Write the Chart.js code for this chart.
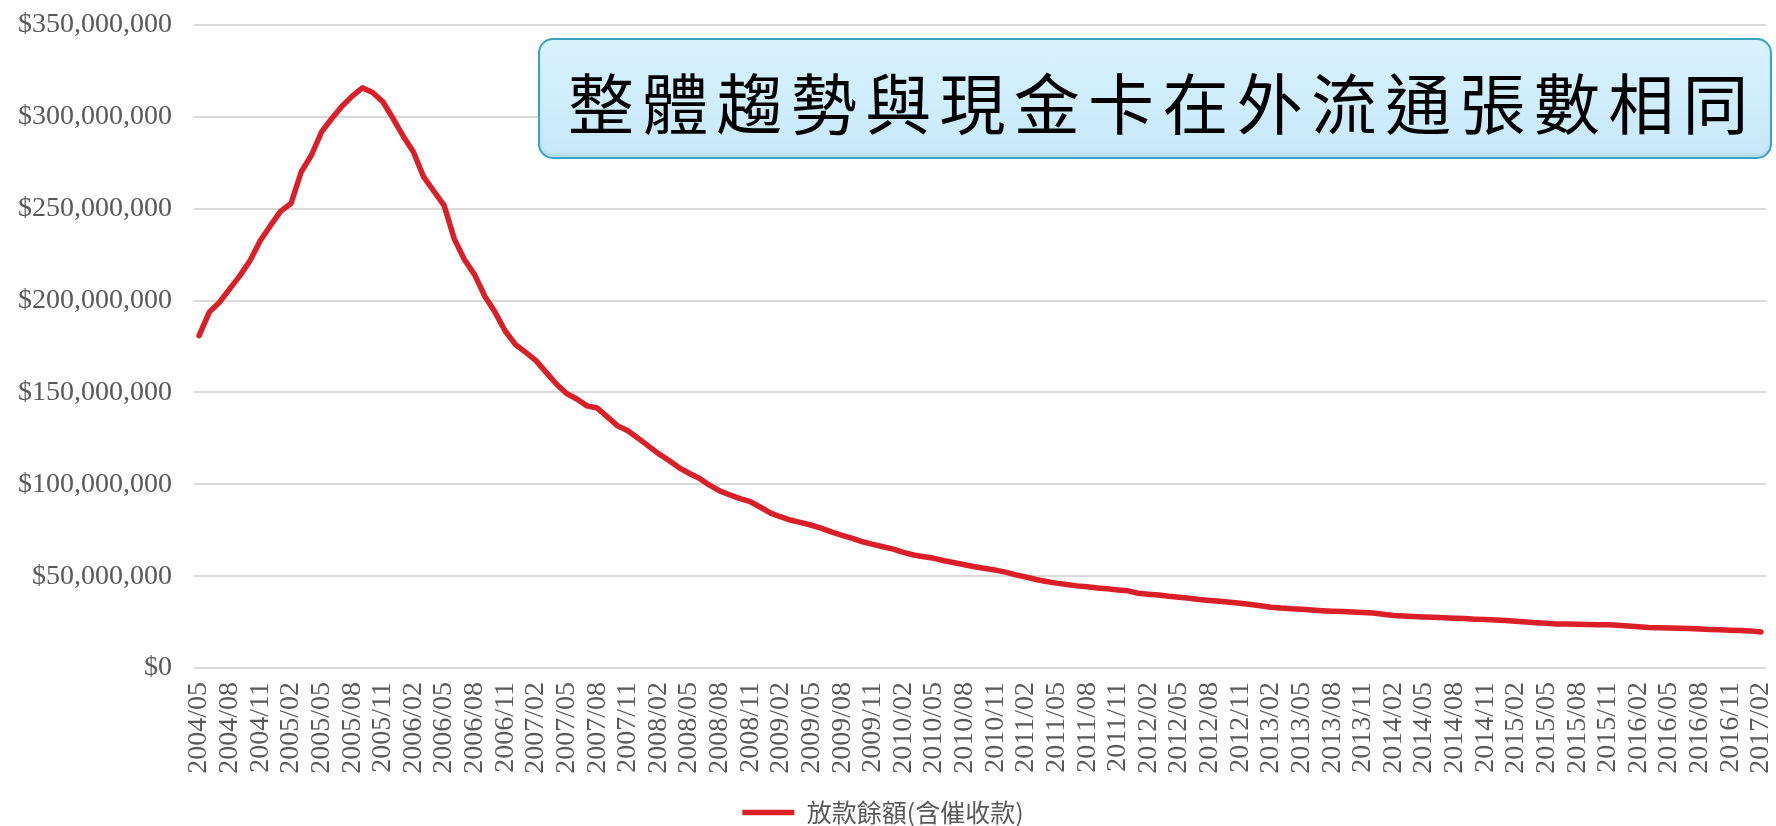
<!DOCTYPE html>
<html>
<head>
<meta charset="utf-8">
<script src="https://cdn.jsdelivr.net/npm/chart.js@4.4.1/dist/chart.umd.min.js"></script>
<style>
  html, body { margin: 0; padding: 0; background: #ffffff; }
  #wrap { position: relative; width: 1776px; height: 826px; overflow: hidden; }
  #c { position: absolute; left: 0; top: 0; }
  #titleBox {
    position: absolute; left: 538px; top: 38px; width: 1230px; height: 117px;
    border: 2px solid #38a2c3; border-radius: 15px;
    background: linear-gradient(#d8f2fd, #c7e8f9);
    box-shadow: inset 0 -3px 3px rgba(40,120,160,0.12);
  }
  #titleText {
    position: absolute; left: 28px; top: 20px; white-space: nowrap;
    font-family: "Noto Sans CJK TC", "Noto Sans CJK SC", sans-serif;
    font-size: 66px; line-height: 80px; letter-spacing: 8.3px; color: #000000;
  }
</style>
</head>
<body>
<div id="wrap">
  <canvas id="c" width="1776" height="826"></canvas>
  <div id="titleBox"><div id="titleText">整體趨勢與現金卡在外流通張數相同</div></div>
</div>
<script>
const categories = [
  "2004/05","2004/06","2004/07","2004/08","2004/09","2004/10","2004/11","2004/12",
  "2005/01","2005/02","2005/03","2005/04","2005/05","2005/06","2005/07","2005/08","2005/09","2005/10","2005/11","2005/12",
  "2006/01","2006/02","2006/03","2006/04","2006/05","2006/06","2006/07","2006/08","2006/09","2006/10","2006/11","2006/12",
  "2007/01","2007/02","2007/03","2007/04","2007/05","2007/06","2007/07","2007/08","2007/09","2007/10","2007/11","2007/12",
  "2008/01","2008/02","2008/03","2008/04","2008/05","2008/06","2008/07","2008/08","2008/09","2008/10","2008/11","2008/12",
  "2009/01","2009/02","2009/03","2009/04","2009/05","2009/06","2009/07","2009/08","2009/09","2009/10","2009/11","2009/12",
  "2010/01","2010/02","2010/03","2010/04","2010/05","2010/06","2010/07","2010/08","2010/09","2010/10","2010/11","2010/12",
  "2011/01","2011/02","2011/03","2011/04","2011/05","2011/06","2011/07","2011/08","2011/09","2011/10","2011/11","2011/12",
  "2012/01","2012/02","2012/03","2012/04","2012/05","2012/06","2012/07","2012/08","2012/09","2012/10","2012/11","2012/12",
  "2013/01","2013/02","2013/03","2013/04","2013/05","2013/06","2013/07","2013/08","2013/09","2013/10","2013/11","2013/12",
  "2014/01","2014/02","2014/03","2014/04","2014/05","2014/06","2014/07","2014/08","2014/09","2014/10","2014/11","2014/12",
  "2015/01","2015/02","2015/03","2015/04","2015/05","2015/06","2015/07","2015/08","2015/09","2015/10","2015/11","2015/12",
  "2016/01","2016/02","2016/03","2016/04","2016/05","2016/06","2016/07","2016/08","2016/09","2016/10","2016/11","2016/12",
  "2017/01","2017/02"
];

const seriesName = "放款餘額(含催收款)";

const loanBalance = [
  180900000,193700000,199100000,206400000,213600000,221800000,232700000,240900000,
  248700000,252800000,270000000,279100000,291800000,299100000,305800000,311300000,315800000,313300000,308200000,299100000,
  289500000,280900000,267300000,259500000,251800000,233600000,222200000,214000000,202200000,193600000,183300000,176000000,
  171800000,167300000,160900000,154600000,149400000,146400000,142700000,141500000,136700000,131800000,129100000,125100000,
  120900000,116700000,113100000,109100000,106000000,103300000,99500000,96400000,94200000,92200000,90500000,87500000,
  84300000,82200000,80400000,79100000,77700000,76000000,74000000,72200000,70600000,68700000,67300000,66000000,
  64700000,62900000,61500000,60600000,59700000,58400000,57300000,56200000,55100000,54200000,53300000,52200000,
  50700000,49500000,48200000,47100000,46200000,45500000,44700000,44200000,43600000,43100000,42500000,42000000,
  40700000,40200000,39700000,39000000,38500000,38000000,37300000,36800000,36300000,35800000,35200000,34600000,
  33900000,33100000,32600000,32300000,32000000,31600000,31200000,30900000,30700000,30500000,30200000,29900000,
  29300000,28600000,28300000,28000000,27800000,27600000,27300000,27100000,26900000,26600000,26400000,26100000,
  25800000,25400000,25000000,24600000,24300000,24000000,23900000,23800000,23700000,23600000,23500000,23300000,
  22900000,22500000,22100000,21900000,21800000,21700000,21500000,21200000,21000000,20800000,20600000,20400000,
  20200000,19600000
];

const yTicks = [0, 50000000, 100000000, 150000000, 200000000, 250000000, 300000000, 350000000];
const tickEvery = 3;

const labelColor = "#595959";
const lineColor = "#DA1F28";

new Chart(document.getElementById("c"), {
  type: "line",
  data: {
    labels: categories,
    datasets: [{
      label: seriesName,
      data: loanBalance,
      borderColor: lineColor,
      backgroundColor: lineColor,
      borderWidth: 5.5,
      pointRadius: 0,
      pointHoverRadius: 0,
      tension: 0,
      borderJoinStyle: "round",
      borderCapStyle: "round",
      fill: false
    }]
  },
  options: {
    responsive: false,
    animation: false,
    events: [],
    layout: { padding: { top: 25, right: 10, left: 0, bottom: -9 } },
    plugins: {
      tooltip: { enabled: false },
      title: { display: false },
      legend: {
        display: true,
        position: "bottom",
        labels: {
          usePointStyle: true,
          pointStyle: "line",
          pointStyleWidth: 52,
          boxHeight: 10,
          padding: 1,
          color: labelColor,
          font: { family: "'Noto Sans CJK TC', 'Noto Sans CJK SC', sans-serif", size: 25 }
        }
      }
    },
    scales: {
      x: {
        type: "category",
        offset: true,
        grid: { display: false, drawTicks: false },
        border: { display: false },
        ticks: {
          autoSkip: false,
          minRotation: 90,
          maxRotation: 90,
          padding: 14,
          color: labelColor,
          font: { family: "'Liberation Serif', serif", size: 28 },
          callback: function (v, i) { return i % tickEvery === 0 ? categories[i] : ""; }
        },
        afterFit: function (scale) {
          scale.height = 131;
          scale.paddingLeft = 0;
          scale.paddingRight = 0;
        }
      },
      y: {
        min: yTicks[0],
        max: yTicks[yTicks.length - 1],
        afterBuildTicks: function (scale) { scale.ticks = yTicks.map(v => ({ value: v })); },
        grid: { color: "#d9d9d9", lineWidth: 2, drawTicks: false },
        border: { display: false },
        ticks: {
          padding: 22,
          color: labelColor,
          font: { family: "'Liberation Serif', serif", size: 28 },
          callback: function (v) { return "$" + Number(v).toLocaleString("en-US"); }
        },
        afterFit: function (scale) {
          scale.width = 194;
          scale.paddingTop = 0;
          scale.paddingBottom = 0;
        }
      }
    }
  }
});
</script>
</body>
</html>
